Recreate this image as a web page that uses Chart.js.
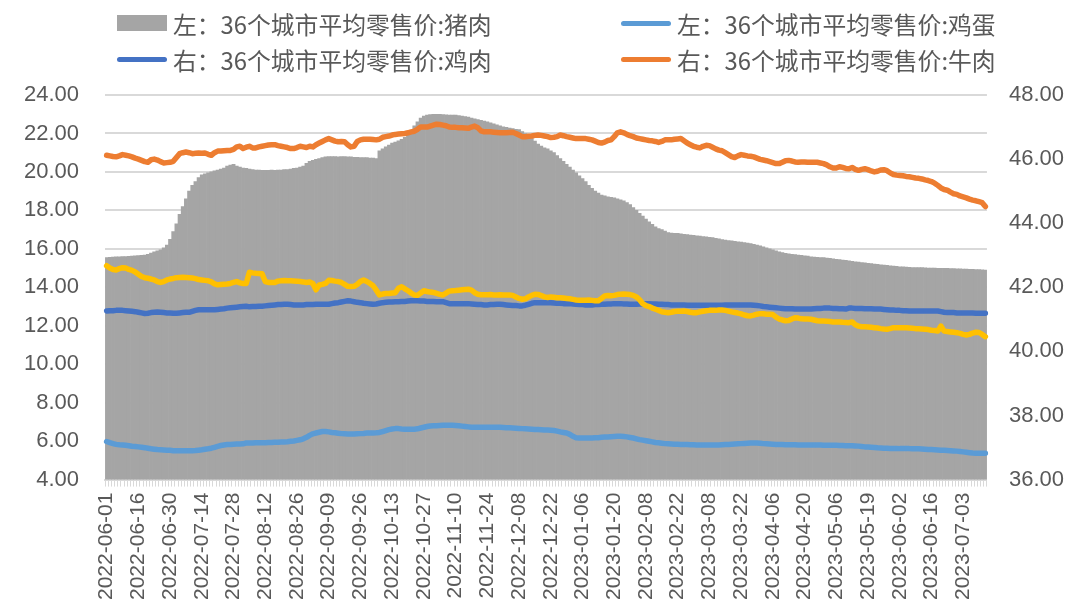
<!DOCTYPE html>
<html lang="zh-CN">
<head>
    <meta charset="UTF-8">
    <title>36个城市平均零售价</title>
    <script src="https://cdn.jsdelivr.net/npm/chart.js"></script>
    <style>
        body {
            margin: 0;
            background: #ffffff;
        }

        .wrap {
            position: relative;
            width: 1066px;
            height: 606px;
        }

        /* 图例用 HTML 绘制，两行两列 */
        .legend {
            position: absolute;
            left: 0;
            top: 0;
            width: 1066px;
            height: 80px;
            font-family: "Noto Sans CJK SC", sans-serif;
            font-size: 23.8px;
            color: #595959;
        }

        .item {
            position: absolute;
            display: flex;
            align-items: center;
            height: 30px;
            white-space: nowrap;
        }

        .swatch-box {
            width: 50px;
            height: 16px;
            margin-right: 6px;
        }

        .swatch-line {
            width: 50px;
            height: 5px;
            border-radius: 3px;
            margin-right: 6px;
        }
    </style>
</head>
<body>
<div class="wrap">
    <canvas id="chart" width="1066" height="606"></canvas>
    <div class="legend">
        <div class="item" style="left:117px; top:8px;">
            <span class="swatch-box" style="background:#a5a5a5"></span>左：36个城市平均零售价:猪肉
        </div>
        <div class="item" style="left:621px; top:8px;">
            <span class="swatch-line" style="background:#5b9bd5"></span>左：36个城市平均零售价:鸡蛋
        </div>
        <div class="item" style="left:117px; top:44px;">
            <span class="swatch-line" style="background:#4472c4"></span>右：36个城市平均零售价:鸡肉
        </div>
        <div class="item" style="left:621px; top:44px;">
            <span class="swatch-line" style="background:#ed7d31"></span>右：36个城市平均零售价:牛肉
        </div>
    </div>
</div>

<script>
    // 刻度标签（每 10 个交易日一个）
    const tickLabels = [
        '2022-06-01', '2022-06-16', '2022-06-30', '2022-07-14', '2022-07-28', '2022-08-12', '2022-08-26',
        '2022-09-09', '2022-09-26', '2022-10-13', '2022-10-27', '2022-11-10', '2022-11-24', '2022-12-08',
        '2022-12-22', '2023-01-06', '2023-01-20', '2023-02-08', '2023-02-22', '2023-03-08', '2023-03-22',
        '2023-04-06', '2023-04-20', '2023-05-06', '2023-05-19', '2023-06-02', '2023-06-16', '2023-07-03'
    ];
    const tickEvery = 10;

    // 左轴：猪肉
    const pork = [
        15.55, 15.56, 15.57, 15.58, 15.58, 15.6, 15.6, 15.61, 15.62, 15.63,
        15.65, 15.66, 15.68, 15.72, 15.78, 15.85, 15.9, 15.95, 16.05, 16.2,
        16.5, 16.9, 17.3, 17.8, 18.2, 18.6, 19.0, 19.3, 19.5, 19.7,
        19.85, 19.9, 19.95, 20.0, 20.05, 20.1, 20.15, 20.2, 20.3, 20.35,
        20.4, 20.3, 20.25, 20.2, 20.18, 20.15, 20.12, 20.1, 20.1, 20.08,
        20.08, 20.08, 20.1, 20.08, 20.1, 20.1, 20.12, 20.12, 20.15, 20.18,
        20.2, 20.25, 20.3, 20.45, 20.55, 20.6, 20.65, 20.7, 20.75, 20.78,
        20.8, 20.8, 20.8, 20.78, 20.8, 20.8, 20.78, 20.78, 20.76, 20.76,
        20.75, 20.75, 20.74, 20.72, 20.72, 20.7, 21.1, 21.2, 21.3, 21.4,
        21.5, 21.55, 21.62, 21.7, 21.8, 21.9, 22.1, 22.4, 22.6, 22.8,
        22.9, 22.95, 22.98, 23.0, 23.0, 23.0, 22.98, 22.97, 22.96, 22.95,
        22.95, 22.93, 22.9, 22.88, 22.85, 22.8, 22.76, 22.72, 22.68, 22.64,
        22.6, 22.55, 22.5, 22.45, 22.4, 22.35, 22.32, 22.28, 22.25, 22.22,
        22.2, 22.1, 22.0, 21.9, 21.75, 21.6, 21.45, 21.35, 21.25, 21.2,
        21.1, 21.0, 20.85, 20.7, 20.55, 20.4, 20.25, 20.1, 19.95, 19.8,
        19.65, 19.5, 19.3, 19.15, 19.0, 18.9, 18.8, 18.75, 18.7, 18.68,
        18.65, 18.6, 18.55, 18.5, 18.4, 18.3, 18.15, 18.0, 17.85, 17.7,
        17.55, 17.4, 17.28, 17.15, 17.05, 17.0, 16.92, 16.85, 16.82, 16.8,
        16.8, 16.78, 16.76, 16.74, 16.72, 16.7, 16.68, 16.66, 16.64, 16.62,
        16.6, 16.58, 16.55, 16.52, 16.48, 16.45, 16.43, 16.41, 16.39, 16.37,
        16.35, 16.32, 16.3, 16.27, 16.24, 16.2, 16.15, 16.1, 16.05, 16.0,
        15.95, 15.9, 15.85, 15.8, 15.77, 15.74, 15.72, 15.7, 15.68, 15.66,
        15.64, 15.62, 15.58, 15.57, 15.56, 15.55, 15.54, 15.52, 15.5, 15.48,
        15.46, 15.44, 15.42, 15.4, 15.38, 15.35, 15.33, 15.31, 15.29, 15.27,
        15.25, 15.23, 15.21, 15.19, 15.17, 15.15, 15.14, 15.12, 15.1, 15.09,
        15.07, 15.06, 15.05, 15.04, 15.03, 15.03, 15.02, 15.02, 15.01, 15.0,
        15.0, 15.0, 14.99, 14.99, 14.98, 14.98, 14.97, 14.97, 14.96, 14.96,
        14.95, 14.95, 14.94, 14.93, 14.92, 14.92, 14.91, 14.9
    ];

    // 左轴：鸡蛋
    const eggs = [
        5.98, 5.92, 5.87, 5.83, 5.81, 5.8, 5.78, 5.76, 5.73, 5.72,
        5.7, 5.68, 5.66, 5.63, 5.6, 5.58, 5.56, 5.55, 5.54, 5.53,
        5.52, 5.5, 5.5, 5.5, 5.5, 5.5, 5.5, 5.5, 5.51, 5.53,
        5.55, 5.58, 5.6, 5.63, 5.68, 5.73, 5.77, 5.8, 5.82, 5.83,
        5.84, 5.85, 5.85, 5.86, 5.9, 5.9, 5.9, 5.91, 5.91, 5.92,
        5.92, 5.93, 5.93, 5.94, 5.94, 5.95, 5.96, 5.97, 5.99, 6.01,
        6.04, 6.07, 6.12, 6.2, 6.3, 6.38, 6.42, 6.46, 6.5, 6.5,
        6.48, 6.45, 6.43, 6.41, 6.39, 6.38, 6.37, 6.37, 6.37, 6.38,
        6.39, 6.4, 6.42, 6.42, 6.42, 6.43, 6.45, 6.5, 6.55, 6.6,
        6.63, 6.65, 6.65, 6.63, 6.62, 6.62, 6.62, 6.62, 6.64, 6.68,
        6.72, 6.76, 6.79, 6.8, 6.8, 6.81, 6.82, 6.82, 6.82, 6.82,
        6.81, 6.8, 6.78, 6.76, 6.74, 6.72, 6.72, 6.72, 6.72, 6.72,
        6.72, 6.72, 6.72, 6.72, 6.72, 6.71, 6.7, 6.69, 6.68, 6.67,
        6.66, 6.65, 6.64, 6.63, 6.62, 6.61, 6.6, 6.59, 6.58, 6.58,
        6.57, 6.55, 6.52, 6.48, 6.45, 6.42, 6.35, 6.25, 6.17, 6.16,
        6.16, 6.16, 6.16, 6.16, 6.17, 6.18, 6.2, 6.21, 6.22, 6.23,
        6.24, 6.25, 6.25, 6.24, 6.22, 6.19, 6.16, 6.12, 6.08, 6.05,
        6.02, 5.99, 5.96, 5.93, 5.91, 5.89, 5.87, 5.86, 5.85, 5.84,
        5.84, 5.83, 5.82, 5.82, 5.81, 5.81, 5.8, 5.8, 5.8, 5.8,
        5.8, 5.8, 5.8, 5.8, 5.81, 5.82, 5.83, 5.84, 5.85, 5.86,
        5.87, 5.88, 5.89, 5.9, 5.9, 5.9, 5.89, 5.87, 5.86, 5.85,
        5.84, 5.83, 5.82, 5.82, 5.81, 5.81, 5.81, 5.81, 5.8, 5.8,
        5.8, 5.8, 5.8, 5.8, 5.8, 5.8, 5.79, 5.79, 5.79, 5.78,
        5.78, 5.77, 5.77, 5.76, 5.76, 5.76, 5.75, 5.74, 5.72, 5.7,
        5.69, 5.68, 5.67, 5.65, 5.64, 5.63, 5.63, 5.62, 5.62, 5.62,
        5.61, 5.61, 5.61, 5.61, 5.6, 5.6, 5.6, 5.59, 5.58, 5.57,
        5.56, 5.55, 5.54, 5.53, 5.52, 5.51, 5.5, 5.49, 5.48, 5.46,
        5.44, 5.42, 5.4, 5.38, 5.37, 5.37, 5.37, 5.37
    ];

    // 左轴：图例中未列出的黄色序列
    const yellowSeries = [
        15.12, 15.0, 14.92, 14.9, 14.97, 15.02, 15.0, 14.93, 14.88, 14.8,
        14.68, 14.56, 14.5, 14.47, 14.43, 14.38, 14.3, 14.25, 14.3, 14.38,
        14.43, 14.46, 14.5, 14.51, 14.52, 14.51, 14.5, 14.48, 14.45, 14.4,
        14.38, 14.36, 14.34, 14.28, 14.18, 14.13, 14.15, 14.16, 14.17, 14.2,
        14.25, 14.3, 14.23, 14.2, 14.2, 14.78, 14.75, 14.73, 14.72, 14.7,
        14.3, 14.25, 14.25, 14.25, 14.32, 14.34, 14.35, 14.34, 14.34, 14.33,
        14.32, 14.3, 14.28, 14.25, 14.28, 14.2, 13.87, 14.12, 14.15, 14.2,
        14.36, 14.35, 14.32, 14.3, 14.25, 14.15, 14.05, 14.04, 14.05, 14.15,
        14.3, 14.38, 14.3, 14.2, 14.08, 13.85, 13.6, 13.65, 13.68, 13.68,
        13.7, 13.72, 13.95, 14.03, 13.92, 13.82, 13.7, 13.6, 13.58, 13.7,
        13.82, 13.78, 13.75, 13.73, 13.68, 13.63, 13.6, 13.7, 13.8, 13.82,
        13.83, 13.85, 13.87, 13.89, 13.9, 13.85, 13.72, 13.64, 13.61, 13.61,
        13.61, 13.62, 13.6, 13.6, 13.61, 13.6, 13.6, 13.6, 13.58, 13.5,
        13.42, 13.38, 13.4, 13.5, 13.58, 13.64, 13.63, 13.57, 13.5, 13.47,
        13.5, 13.48, 13.46, 13.45, 13.44, 13.42, 13.4, 13.37, 13.34, 13.33,
        13.33, 13.33, 13.34, 13.32, 13.3, 13.3, 13.42, 13.55, 13.57, 13.56,
        13.58, 13.62, 13.64, 13.65, 13.64, 13.62, 13.58, 13.5, 13.35, 13.15,
        13.05, 13.0, 12.92, 12.86, 12.8, 12.73, 12.7, 12.68, 12.7, 12.74,
        12.75, 12.76, 12.77, 12.74, 12.7, 12.68, 12.68, 12.72, 12.75, 12.78,
        12.8, 12.8, 12.8, 12.82, 12.82, 12.8, 12.76, 12.72, 12.69, 12.66,
        12.62, 12.56, 12.52, 12.51, 12.55, 12.6, 12.63, 12.62, 12.6, 12.6,
        12.58, 12.45, 12.35, 12.3, 12.26, 12.27, 12.35, 12.42, 12.4, 12.36,
        12.35, 12.35, 12.34, 12.3, 12.26, 12.25, 12.25, 12.24, 12.22, 12.2,
        12.2, 12.2, 12.18, 12.17, 12.16, 12.2, 12.05, 11.98, 11.95, 11.95,
        11.94, 11.92, 11.9, 11.88, 11.85, 11.83, 11.82, 11.85, 11.9, 11.9,
        11.9, 11.9, 11.89, 11.88, 11.87, 11.85, 11.84, 11.83, 11.82, 11.8,
        11.77, 11.75, 11.73, 11.98, 11.72, 11.7, 11.68, 11.66, 11.64, 11.6,
        11.55, 11.52, 11.55, 11.62, 11.66, 11.65, 11.55, 11.43
    ];

    // 右轴：鸡肉
    const chicken = [
        41.26, 41.27, 41.27, 41.28, 41.28, 41.28, 41.27, 41.26, 41.25, 41.24,
        41.22, 41.2, 41.18, 41.19, 41.21, 41.22, 41.23, 41.22, 41.21, 41.2,
        41.2, 41.19, 41.19, 41.2, 41.21, 41.22, 41.22, 41.25, 41.28, 41.3,
        41.3, 41.3, 41.3, 41.3, 41.3, 41.31, 41.32, 41.33, 41.35, 41.36,
        41.37, 41.38, 41.39, 41.4, 41.41, 41.39, 41.4, 41.4, 41.41, 41.41,
        41.42, 41.43, 41.44, 41.45, 41.46, 41.46, 41.47, 41.47, 41.46, 41.45,
        41.45, 41.45, 41.45, 41.46, 41.46, 41.46, 41.47, 41.47, 41.47, 41.47,
        41.47, 41.49, 41.51, 41.52, 41.54, 41.56, 41.58, 41.57, 41.55, 41.53,
        41.52, 41.5, 41.49, 41.48, 41.47, 41.48, 41.5, 41.52, 41.53, 41.54,
        41.54, 41.55, 41.55, 41.56, 41.56, 41.57, 41.58, 41.58, 41.58, 41.57,
        41.57, 41.56, 41.56, 41.56, 41.55, 41.55, 41.55, 41.52, 41.49, 41.49,
        41.49, 41.49, 41.49, 41.49, 41.49, 41.48, 41.47, 41.46, 41.46, 41.45,
        41.45, 41.46, 41.46, 41.47, 41.47, 41.46, 41.45, 41.44, 41.43, 41.43,
        41.42, 41.42, 41.44, 41.47, 41.5, 41.52, 41.52, 41.52, 41.52, 41.52,
        41.52, 41.51, 41.5, 41.5, 41.49, 41.49, 41.49, 41.48, 41.47, 41.46,
        41.46, 41.45, 41.45, 41.45, 41.46, 41.46, 41.47, 41.47, 41.48, 41.48,
        41.49, 41.49, 41.49, 41.48, 41.48, 41.47, 41.47, 41.47, 41.48, 41.48,
        41.49, 41.49, 41.48, 41.48, 41.47, 41.47, 41.46, 41.46, 41.45, 41.45,
        41.45, 41.45, 41.45, 41.44, 41.44, 41.44, 41.44, 41.44, 41.44, 41.44,
        41.44, 41.44, 41.44, 41.44, 41.44, 41.45, 41.45, 41.45, 41.45, 41.45,
        41.45, 41.45, 41.45, 41.45, 41.44, 41.43, 41.42, 41.4, 41.39, 41.38,
        41.37, 41.36, 41.35, 41.34, 41.33, 41.33, 41.33, 41.32, 41.32, 41.32,
        41.32, 41.32, 41.32, 41.33, 41.34, 41.34, 41.35, 41.35, 41.35, 41.34,
        41.34, 41.33, 41.33, 41.32, 41.35, 41.35, 41.34, 41.34, 41.34, 41.33,
        41.33, 41.33, 41.32, 41.32, 41.32, 41.31, 41.3, 41.29, 41.29, 41.28,
        41.28, 41.27, 41.27, 41.26, 41.26, 41.26, 41.26, 41.26, 41.26, 41.26,
        41.26, 41.26, 41.26, 41.24, 41.22, 41.21, 41.21, 41.21, 41.2, 41.2,
        41.2, 41.2, 41.2, 41.2, 41.19, 41.19, 41.19, 41.19
    ];

    // 右轴：牛肉
    const beef = [
        46.12, 46.1, 46.08, 46.07, 46.1, 46.14, 46.12, 46.1, 46.07, 46.03,
        46.0, 45.96, 45.92, 45.9, 45.98, 46.0, 45.97, 45.92, 45.88, 45.89,
        45.9, 45.93, 46.05, 46.17, 46.2, 46.22, 46.2, 46.17, 46.18, 46.19,
        46.18, 46.19, 46.15, 46.12, 46.2, 46.25, 46.25, 46.26, 46.27, 46.27,
        46.3, 46.38, 46.4, 46.33, 46.37, 46.4, 46.35, 46.35, 46.38, 46.4,
        46.42, 46.44, 46.45, 46.45, 46.42, 46.4, 46.38, 46.36, 46.33, 46.33,
        46.36, 46.4, 46.38, 46.36, 46.4, 46.38, 46.45, 46.5, 46.55, 46.6,
        46.64, 46.6, 46.56, 46.54, 46.55, 46.54, 46.45, 46.38, 46.4, 46.55,
        46.6, 46.62, 46.62, 46.62, 46.61, 46.6, 46.62, 46.68, 46.7, 46.72,
        46.75, 46.77, 46.78, 46.79, 46.8, 46.82, 46.85, 46.87, 46.93, 47.0,
        47.0, 47.0, 47.03, 47.06, 47.09, 47.08, 47.06, 47.04, 47.0, 46.99,
        46.99, 46.98, 46.98, 46.97, 46.96, 47.0, 47.03, 46.98, 46.88, 46.85,
        46.85, 46.85, 46.84, 46.83, 46.82, 46.82, 46.82, 46.83, 46.84, 46.8,
        46.75, 46.7, 46.7, 46.71, 46.72, 46.74, 46.75, 46.74, 46.72, 46.7,
        46.67, 46.68, 46.7, 46.75, 46.73, 46.7, 46.68, 46.66, 46.64, 46.64,
        46.64, 46.64, 46.62, 46.6, 46.56, 46.52, 46.5, 46.53, 46.58, 46.6,
        46.7, 46.82, 46.85, 46.82, 46.77, 46.73, 46.7, 46.66, 46.64, 46.62,
        46.6, 46.58, 46.57, 46.55, 46.52, 46.55, 46.6, 46.6, 46.6, 46.62,
        46.63, 46.64, 46.57, 46.5, 46.45, 46.4, 46.37, 46.35, 46.4, 46.43,
        46.42, 46.37, 46.32, 46.28, 46.26, 46.2, 46.14, 46.08, 46.05, 46.1,
        46.14, 46.12, 46.1, 46.09, 46.07, 46.03, 45.99, 45.97, 45.95, 45.92,
        45.89, 45.86, 45.86, 45.9, 45.95, 45.96, 45.94, 45.91, 45.9, 45.91,
        45.91, 45.9, 45.9, 45.9, 45.9, 45.88, 45.86, 45.82, 45.76, 45.72,
        45.72, 45.76, 45.74, 45.71, 45.7, 45.74, 45.68, 45.65, 45.68, 45.7,
        45.67, 45.63, 45.6, 45.62, 45.66, 45.67, 45.64, 45.57, 45.52, 45.5,
        45.49, 45.48, 45.46, 45.45, 45.43, 45.41, 45.4, 45.38, 45.35, 45.33,
        45.3, 45.25, 45.18, 45.1, 45.05, 45.03, 44.97, 44.92, 44.9, 44.85,
        44.82, 44.79, 44.75, 44.72, 44.7, 44.67, 44.64, 44.52
    ];

    const leftTicks = { min: 4, max: 24, step: 2 };
    const rightTicks = { min: 36, max: 48, step: 2 };

    // 类目：只在每 10 个点上放刻度文字
    const labels = pork.map((_, i) => (i % tickEvery === 0 ? tickLabels[i / tickEvery] || '' : ''));

    const xFont = { family: '"Liberation Sans", Arial, sans-serif', size: 21 };
    const yFont = { family: '"Liberation Sans", Arial, sans-serif', size: 22 };
    const textColor = '#595959';
    const gridColor = '#d9d9d9';

    function lineSet(label, data, color, axis, order) {
        return {
            type: 'line',
            label: label,
            data: data,
            yAxisID: axis,
            borderColor: color,
            backgroundColor: color,
            borderWidth: 5.5,
            pointRadius: 0,
            tension: 0,
            borderJoinStyle: 'round',
            borderCapStyle: 'round',
            order: order
        };
    }

    const ctx = document.getElementById('chart').getContext('2d');
    new Chart(ctx, {
        type: 'bar',
        data: {
            labels: labels,
            datasets: [
                lineSet('', yellowSeries, '#ffc000', 'y', 0),
                lineSet('右：36个城市平均零售价:牛肉', beef, '#ed7d31', 'y2', 1),
                lineSet('右：36个城市平均零售价:鸡肉', chicken, '#4472c4', 'y2', 2),
                lineSet('左：36个城市平均零售价:鸡蛋', eggs, '#5b9bd5', 'y', 3),
                {
                    type: 'bar',
                    label: '左：36个城市平均零售价:猪肉',
                    data: pork,
                    yAxisID: 'y',
                    backgroundColor: '#a5a5a5',
                    borderWidth: 0,
                    barPercentage: 1,
                    categoryPercentage: 1,
                    order: 4
                }
            ]
        },
        options: {
            responsive: false,
            animation: false,
            // 左右留白用负值抵消坐标轴自带的余量
            layout: { padding: { top: 95, left: -2, right: -20, bottom: 0 } },
            plugins: {
                legend: { display: false },
                tooltip: { enabled: false }
            },
            scales: {
                x: {
                    grid: { drawOnChartArea: false, drawTicks: true, tickLength: 7, color: gridColor },
                    border: { color: gridColor, width: 2 },
                    ticks: {
                        autoSkip: false,
                        maxRotation: 90,
                        minRotation: 90,
                        padding: 6,
                        color: textColor,
                        font: xFont
                    }
                },
                y: {
                    position: 'left',
                    min: leftTicks.min,
                    max: leftTicks.max,
                    ticks: {
                        stepSize: leftTicks.step,
                        padding: 26,
                        color: textColor,
                        font: yFont,
                        callback: v => v.toFixed(2)
                    },
                    grid: { color: gridColor, lineWidth: 2, drawTicks: false },
                    border: { display: false }
                },
                y2: {
                    position: 'right',
                    min: rightTicks.min,
                    max: rightTicks.max,
                    ticks: {
                        stepSize: rightTicks.step,
                        padding: 22,
                        color: textColor,
                        font: yFont,
                        callback: v => v.toFixed(2)
                    },
                    grid: { drawOnChartArea: false, drawTicks: false },
                    border: { display: false }
                }
            }
        }
    });
</script>
</body>
</html>
